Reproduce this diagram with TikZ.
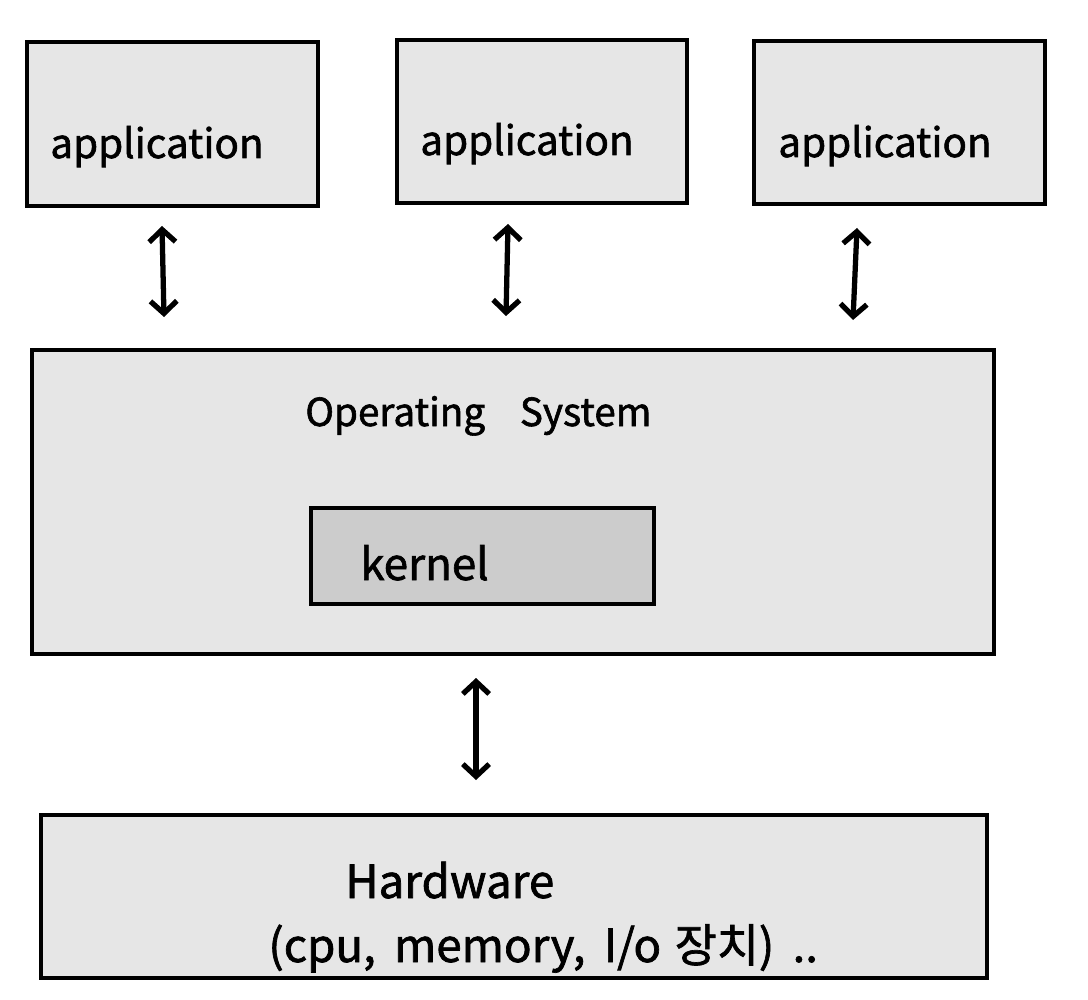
\documentclass[tikz,border=0pt]{standalone}
\usepackage{fontspec}
\setmainfont[FakeBold=1.5,AutoFakeBold=0]{Noto Sans CJK KR}
\usetikzlibrary{arrows.meta}
\definecolor{boxgray}{HTML}{E6E6E6}
\definecolor{kerngray}{HTML}{CCCCCC}
\tikzset{
  box/.style={draw=black, line width=2.5pt, fill=boxgray, rectangle, inner sep=0pt},
  kbox/.style={box, fill=kerngray},
  lbl/.style={anchor=base west, inner sep=0pt, text=black},
  biarrow/.style={line width=3pt, line cap=round,
    {Straight Barb[length=7pt,width=15pt,line width=3pt]}-{Straight Barb[length=7pt,width=15pt,line width=3pt]}}
}
\begin{document}
\begin{tikzpicture}[x=0.02cm,y=-0.02cm]
\useasboundingbox (0,0) rectangle (1088,1000);
% boxes
\node[box, minimum width=291*0.02cm, minimum height=164*0.02cm] (app1) at (172.5,124) {};
\node[box, minimum width=290*0.02cm, minimum height=163*0.02cm] (app2) at (542,121.5) {};
\node[box, minimum width=291*0.02cm, minimum height=163*0.02cm] (app3) at (899.5,122.5) {};
\node[box, minimum width=962*0.02cm, minimum height=304*0.02cm] (os) at (513,502) {};
\node[kbox, minimum width=343*0.02cm, minimum height=96*0.02cm] (kern) at (482.5,556) {};
\node[box, minimum width=946*0.02cm, minimum height=163*0.02cm] (hw) at (514,896.5) {};
% labels
\node[lbl, font=\fontsize{23}{27}\selectfont] (t1) at (50,158) {application};
\node[lbl, font=\fontsize{23}{27}\selectfont] (t2) at (420,155) {application};
\node[lbl, font=\fontsize{23}{27}\selectfont] (t3) at (778,157) {application};
\node[lbl, font=\fontsize{22}{26}\selectfont] (tos) at (305,426) {Operating\hspace{0.9em}System};
\node[lbl, font=\fontsize{25}{29}\selectfont] (tk) at (360,580) {kernel};
\node[lbl, font=\fontsize{26}{30}\selectfont] (thw) at (345,898) {Hardware};
\node[lbl, font=\fontsize{26}{30}\selectfont] (thw2) at (268,962) {(cpu,\hspace{0.4em}memory,\hspace{0.4em}I/o\hspace{0.3em}장치)\hspace{0.4em}..};
% arrow end points
\coordinate (a1t) at (162,226); \coordinate (a1b) at (164,317);
\coordinate (a2t) at (508,224); \coordinate (a2b) at (506,316);
\coordinate (a3t) at (857,228); \coordinate (a3b) at (853,320);
\coordinate (a4t) at (476,678); \coordinate (a4b) at (476,780);
\draw[biarrow] (a1t) -- (a1b);
\draw[biarrow] (a2t) -- (a2b);
\draw[biarrow] (a3t) -- (a3b);
\draw[biarrow] (a4t) -- (a4b);
\end{tikzpicture}
\end{document}
